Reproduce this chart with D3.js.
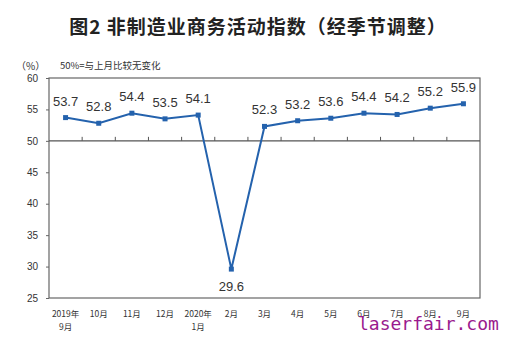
<!DOCTYPE html>
<html>
<head>
<meta charset="utf-8">
<script src="https://cdn.jsdelivr.net/npm/d3@7"></script>
<style>
  body { margin: 0; background: #fff; }
  svg { display: block; }
</style>
</head>
<body>
<div class="canvas"></div>
<script>
// data
const months = ['2019年|9月', '10月', '11月', '12月', '2020年|1月', '2月', '3月', '4月', '5月', '6月', '7月', '8月', '9月'];
const values = [53.7, 52.8, 54.4, 53.5, 54.1, 29.6, 52.3, 53.2, 53.6, 54.4, 54.2, 55.2, 55.9];
const yTicks = [25, 30, 35, 40, 45, 50, 55, 60];

const width = 506, height = 355;
const margin = {top: 78, right: 26, bottom: 57, left: 49};
const graphWidth = width - margin.left - margin.right;
const graphHeight = height - margin.top - margin.bottom;

const svg = d3.select('.canvas')
    .append('svg')
    .attr('width', width)
    .attr('height', height);

// title
svg.append('text')
    .attr('x', 258).attr('y', 34)
    .attr('text-anchor', 'middle')
    .attr('font-family', '"Noto Sans CJK SC", sans-serif')
    .attr('font-size', 19)
    .attr('font-weight', 'bold')
    .attr('letter-spacing', 1)
    .attr('fill', '#222')
    .text('图2 非制造业商务活动指数（经季节调整）');

svg.append('text')
    .attr('x', 16).attr('y', 70)
    .attr('font-family', '"Noto Sans CJK SC", sans-serif')
    .attr('font-size', 10)
    .attr('fill', '#333')
    .text('（%）');

svg.append('text')
    .attr('x', 60).attr('y', 69)
    .attr('font-family', '"Noto Sans CJK SC", sans-serif')
    .attr('font-size', 9.5)
    .attr('fill', '#333')
    .text('50%=与上月比较无变化');

const graph = svg.append('g')
    .attr('transform', `translate(${margin.left}, ${margin.top})`);

// scales
const x = d3.scaleBand().domain(months).range([0, graphWidth]);
const y = d3.scaleLinear().domain([25, 60]).range([graphHeight, 0]);
const cx = d => x(d) + x.bandwidth() / 2;

// frame
graph.append('rect')
    .attr('width', graphWidth).attr('height', graphHeight)
    .attr('fill', 'none')
    .attr('stroke', '#666')
    .attr('stroke-width', 1.2);

// y axis
const yAxis = d3.axisLeft(y).tickValues(yTicks).tickSize(3).tickPadding(8);
const yAxisGroup = graph.append('g').call(yAxis);
yAxisGroup.select('.domain').remove();
yAxisGroup.selectAll('line').attr('stroke', '#666');
yAxisGroup.selectAll('text')
    .attr('font-family', '"Liberation Sans", Arial, sans-serif')
    .attr('font-size', 10)
    .attr('fill', '#333');

// 50 line with ticks at band boundaries
const base = graph.append('g').attr('transform', `translate(0, ${y(50)})`);
base.append('line')
    .attr('x1', 0).attr('x2', graphWidth)
    .attr('stroke', '#555').attr('stroke-width', 1.2);
base.selectAll('.tk')
    .data(months.slice(1))
    .enter().append('line')
    .attr('x1', d => x(d)).attr('x2', d => x(d))
    .attr('y1', 0).attr('y2', -4)
    .attr('stroke', '#555');

// x labels
const xl = graph.append('g').attr('transform', `translate(0, ${graphHeight})`);
xl.selectAll('text')
    .data(months)
    .enter().append('text')
    .attr('x', d => cx(d))
    .attr('y', 19)
    .attr('text-anchor', 'middle')
    .attr('font-family', '"Noto Sans CJK SC", sans-serif')
    .attr('font-size', 8.5)
    .attr('fill', '#333')
    .each(function(d) {
        const parts = d.split('|');
        d3.select(this).selectAll('tspan')
            .data(parts)
            .enter().append('tspan')
            .attr('x', cx(d))
            .attr('dy', (p, i) => i === 0 ? 0 : 13)
            .text(p => p);
    });

// line
const pts = months.map((m, i) => ({m: m, v: values[i]}));
const line = d3.line().x(d => cx(d.m)).y(d => y(d.v));

graph.append('path')
    .datum(pts)
    .attr('fill', 'none')
    .attr('stroke', '#2462ad')
    .attr('stroke-width', 2)
    .attr('d', line);

graph.selectAll('.pt')
    .data(pts)
    .enter().append('rect')
    .attr('x', d => cx(d.m) - 2.5)
    .attr('y', d => y(d.v) - 2.5)
    .attr('width', 5).attr('height', 5)
    .attr('fill', '#2462ad');

// value labels
graph.selectAll('.lbl')
    .data(pts)
    .enter().append('text')
    .attr('x', d => cx(d.m))
    .attr('y', d => d.v < 40 ? y(d.v) + 22 : y(d.v) - 12)
    .attr('text-anchor', 'middle')
    .attr('font-family', '"Liberation Sans", Arial, sans-serif')
    .attr('font-size', 13)
    .attr('fill', '#333')
    .text(d => d.v.toFixed(1));

// watermark
svg.append('text')
    .attr('x', 358).attr('y', 330)
    .attr('font-family', '"DejaVu Sans Mono", monospace')
    .attr('font-size', 18)
    .attr('fill', '#9a1a8e')
    .text('laserfair.com');
</script>
</body>
</html>
